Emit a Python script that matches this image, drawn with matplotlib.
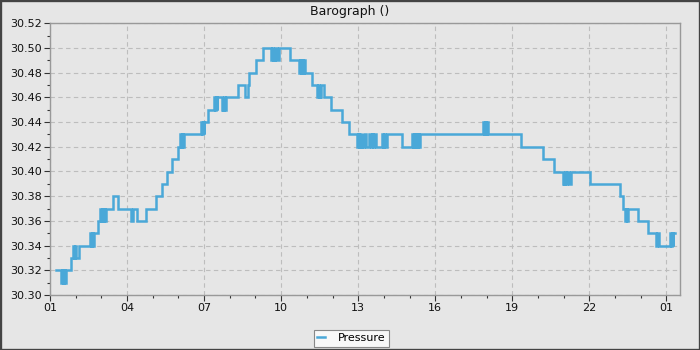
import matplotlib
matplotlib.use("Agg")
import matplotlib.pyplot as plt
from matplotlib.ticker import FixedLocator, MultipleLocator, FuncFormatter
from matplotlib.patches import Rectangle

# time in hours since midnight of first day (values > 24 are next day)
times = [
    1.23, 1.44, 1.48, 1.51, 1.56, 1.59, 1.64, 1.69,
    1.83, 1.91, 1.95, 1.98, 2.02, 2.13,
    2.56, 2.60, 2.63, 2.67, 2.70, 2.75, 2.86,
    2.95, 3.00, 3.03, 3.08, 3.11, 3.16, 3.19, 3.23,
    3.47, 3.66, 4.16, 4.22, 4.37, 4.74,
    5.13, 5.35, 5.55, 5.75, 5.97,
    6.06, 6.10, 6.13, 6.17, 6.20,
    6.87, 6.91, 6.94, 6.98, 7.00,
    7.14, 7.39, 7.42, 7.45, 7.49, 7.52,
    7.69, 7.72, 7.75, 7.79, 7.81, 7.84,
    8.31, 8.61, 8.69, 8.76, 9.01, 9.29,
    9.61, 9.64, 9.67, 9.71, 9.73, 9.75,
    9.83, 9.91, 10.33,
    10.71, 10.75, 10.78, 10.82, 10.85, 10.89, 10.92,
    11.19, 11.40, 11.43, 11.46, 11.50, 11.52, 11.55,
    11.65, 11.95, 12.38, 12.65,
    12.95, 12.99, 13.02, 13.06, 13.09, 13.13, 13.16, 13.21,
    13.31, 13.41,
    13.49, 13.53, 13.56, 13.60, 13.70,
    13.92, 13.96, 14.00, 14.06, 14.12,
    14.70, 15.11, 15.15, 15.18, 15.22, 15.25, 15.29, 15.32, 15.36, 15.39, 15.44,
    17.86, 17.90, 17.93, 17.97, 18.00, 18.04, 18.07,
    19.35, 20.18, 20.61,
    20.96, 21.00, 21.03, 21.07, 21.10, 21.13,
    21.22, 21.29, 22.04,
    23.21, 23.33, 23.40, 23.44, 23.47, 23.50, 23.53,
    23.89, 24.28, 24.61, 24.65, 24.70,
    25.13, 25.17, 25.20, 25.24, 25.27, 25.32,
]
pressure = [
    30.32, 30.31, 30.32, 30.31, 30.32, 30.31, 30.32, 30.32,
    30.33, 30.34, 30.33, 30.34, 30.33, 30.34,
    30.35, 30.34, 30.35, 30.34, 30.35, 30.35, 30.36,
    30.37, 30.36, 30.37, 30.36, 30.37, 30.36, 30.37, 30.37,
    30.38, 30.37, 30.36, 30.37, 30.36, 30.37,
    30.38, 30.39, 30.40, 30.41, 30.42,
    30.43, 30.42, 30.43, 30.42, 30.43,
    30.44, 30.43, 30.44, 30.43, 30.44,
    30.45, 30.46, 30.45, 30.46, 30.45, 30.46,
    30.45, 30.46, 30.45, 30.46, 30.45, 30.46,
    30.47, 30.46, 30.47, 30.48, 30.49, 30.50,
    30.49, 30.50, 30.49, 30.50, 30.49, 30.50,
    30.49, 30.50, 30.49,
    30.48, 30.49, 30.48, 30.49, 30.48, 30.49, 30.48,
    30.47, 30.46, 30.47, 30.46, 30.47, 30.46, 30.47,
    30.46, 30.45, 30.44, 30.43,
    30.42, 30.43, 30.42, 30.43, 30.42, 30.43, 30.42, 30.43,
    30.42, 30.43,
    30.42, 30.43, 30.42, 30.43, 30.42,
    30.43, 30.42, 30.43, 30.42, 30.43,
    30.42, 30.43, 30.42, 30.43, 30.42, 30.43, 30.42, 30.43, 30.42, 30.43, 30.43,
    30.44, 30.43, 30.44, 30.43, 30.44, 30.43, 30.43,
    30.42, 30.41, 30.40,
    30.39, 30.40, 30.39, 30.40, 30.39, 30.40,
    30.39, 30.40, 30.39,
    30.38, 30.37, 30.36, 30.37, 30.36, 30.37, 30.37,
    30.36, 30.35, 30.34, 30.35, 30.34,
    30.35, 30.34, 30.35, 30.34, 30.35, 30.35,
]

x_ticks = [1, 4, 7, 10, 13, 16, 19, 22, 25]
x_labels = ["01", "04", "07", "10", "13", "16", "19", "22", "01"]
title = "Barograph ()"
series_name = "Pressure"

BG = "#e6e6e6"
LINE = "#4aa8d8"

plt.rcParams["font.family"] = ["DejaVu Sans"]
fig = plt.figure(figsize=(7, 3.5), dpi=100, facecolor=BG)
ax = fig.add_axes([50 / 700, 1 - 295 / 350, 630 / 700, (295 - 23.3) / 350])
ax.set_facecolor(BG)

ax.step(times, pressure, where="post", color=LINE, lw=1.8, label=series_name,
        solid_joinstyle="miter")

ax.set_xlim(1, 25.53)
ax.set_ylim(30.30, 30.52)

ax.xaxis.set_major_locator(FixedLocator(x_ticks))
ax.xaxis.set_major_formatter(FuncFormatter(lambda v, p: x_labels[x_ticks.index(int(round(v)))] if int(round(v)) in x_ticks else ""))
ax.xaxis.set_minor_locator(MultipleLocator(1))
ax.yaxis.set_major_locator(MultipleLocator(0.02))
ax.yaxis.set_minor_locator(MultipleLocator(0.01))
ax.yaxis.set_major_formatter(FuncFormatter(lambda v, p: f"{v:.2f}"))

ax.tick_params(axis="both", which="major", length=4, width=0.8, color="#333333",
               labelsize=8, labelcolor="#111111", pad=2)
ax.tick_params(axis="both", which="minor", length=2.5, width=0.8, color="#333333")

ax.grid(True, which="major", color="#bdbdbd", linestyle=(0, (4, 3)), lw=0.8)
ax.set_axisbelow(True)
for s in ax.spines.values():
    s.set_color("#999999")
    s.set_linewidth(1.0)

fig.text(0.5, 1 - 15 / 350, title, ha="center", va="baseline", fontsize=9, color="#111111")

leg = fig.legend(loc="lower center", bbox_to_anchor=(0.502, 3.5 / 350), ncol=1,
                 fontsize=8, frameon=True, fancybox=False, framealpha=1,
                 facecolor="#f8f8f8", edgecolor="#888888",
                 handlelength=0.7, handletextpad=1.2, borderpad=0.3, borderaxespad=0)
leg.get_frame().set_linewidth(0.8)

fig.patches.append(Rectangle((0, 0), 1, 1, transform=fig.transFigure, fill=False,
                             edgecolor="#444444", lw=2.4, zorder=10))

fig.savefig("out.png", dpi=100, facecolor=BG)
